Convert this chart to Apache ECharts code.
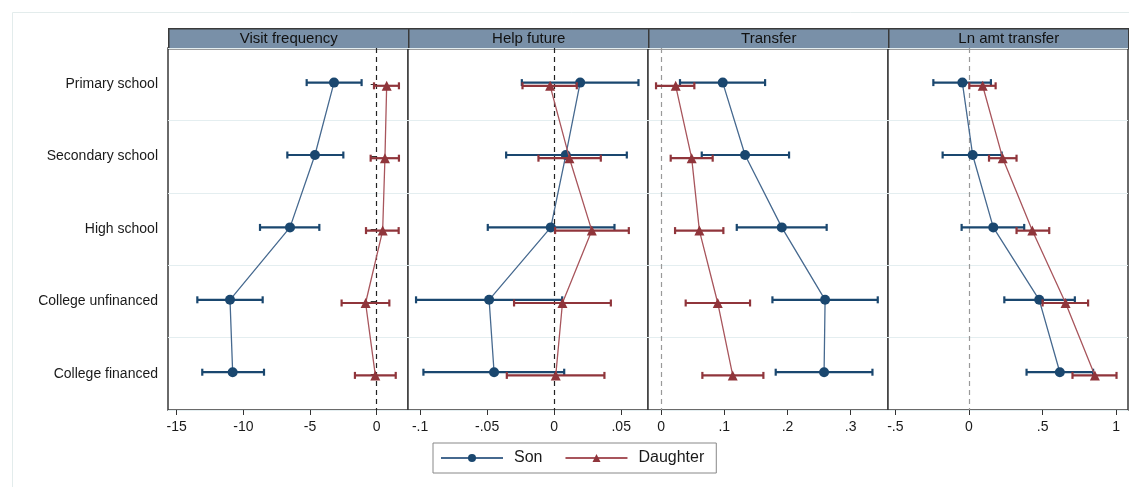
<!DOCTYPE html>
<html>
<head>
<meta charset="utf-8">
<script src="https://cdn.jsdelivr.net/npm/echarts@6/dist/echarts.min.js"></script>
<style>
  html, body { margin: 0; padding: 0; background: #fff; }
  #chart { width: 1129px; height: 487px; }
</style>
</head>
<body>
<div id="chart"></div>
<script>
// categories, top to bottom
const categories = ['Primary school', 'Secondary school', 'High school', 'College unfinanced', 'College financed'];
const panelTitles = ['Visit frequency', 'Help future', 'Transfer', 'Ln amt transfer'];

// son estimates and 95% CI, one row per panel
const sonMean = [
  [-3.2, -4.63, -6.5, -11.0, -10.8],
  [0.0194, 0.0087, -0.0025, -0.0485, -0.0448],
  [0.0976, 0.1329, 0.191, 0.2595, 0.2579],
  [-0.045, 0.025, 0.165, 0.477, 0.617]
];
const sonLow = [
  [-5.25, -6.7, -8.75, -13.45, -13.08],
  [-0.0241, -0.0358, -0.0495, -0.103, -0.0975],
  [0.030, 0.0644, 0.1198, 0.1762, 0.1814],
  [-0.242, -0.179, -0.050, 0.240, 0.391]
];
const sonHigh = [
  [-1.13, -2.5, -4.3, -8.55, -8.45],
  [0.0629, 0.0542, 0.045, 0.006, 0.0075],
  [0.1646, 0.2025, 0.262, 0.3428, 0.3344],
  [0.149, 0.222, 0.375, 0.719, 0.843]
];

// daughter estimates and 95% CI
const daughterMean = [
  [0.75, 0.62, 0.45, -0.83, -0.1],
  [-0.003, 0.0114, 0.0281, 0.0062, 0.0012],
  [0.0232, 0.0485, 0.0607, 0.0897, 0.1134],
  [0.093, 0.229, 0.430, 0.656, 0.855]
];
const daughterLow = [
  [-0.2, -0.45, -0.8, -2.63, -1.63],
  [-0.0236, -0.0117, 0.0007, -0.0299, -0.0353],
  [-0.0079, 0.0153, 0.0222, 0.039, 0.0654],
  [0.002, 0.136, 0.323, 0.500, 0.703]
];
const daughterHigh = [
  [1.67, 1.67, 1.65, 0.95, 1.43],
  [0.0169, 0.0348, 0.0557, 0.0423, 0.0375],
  [0.0527, 0.0817, 0.0986, 0.1408, 0.1619],
  [0.181, 0.323, 0.545, 0.809, 1.002]
];

// x axis ticks per panel
const xTicks = [
  [-15, -10, -5, 0],
  [-0.1, -0.05, 0, 0.05],
  [0, 0.1, 0.2, 0.3],
  [-0.5, 0, 0.5, 1]
];
const xRanges = [[-15.65, 2.35], [-0.109, 0.070], [-0.0206, 0.359], [-0.55, 1.08]];
const zeroLineColor = ['#222', '#222', '#999', '#999'];

const SON = '#1a476f', SON_LINE = '#46698f';
const DAU = '#90353b', DAU_LINE = '#a8555c';
const FONT = 'Liberation Sans, Arial, sans-serif';

const gridLeft = 168, gridTop = 48, gridW = 240, gridH = 362;
const off = 0.022; // small vertical dodge between son and daughter

function fmtTick(v) {
  let s = String(v);
  return s.replace(/^(-?)0\./, '$1.');
}

function ciRender(color) {
  return function (params, api) {
    const a = api.coord([api.value(0), api.value(2)]);
    const b = api.coord([api.value(1), api.value(2)]);
    const h = 3.5;
    const st = { stroke: color, lineWidth: 2.2 };
    return {
      type: 'group',
      children: [
        { type: 'line', shape: { x1: a[0], y1: a[1], x2: b[0], y2: b[1] }, style: st },
        { type: 'line', shape: { x1: a[0], y1: a[1] - h, x2: a[0], y2: a[1] + h }, style: st },
        { type: 'line', shape: { x1: b[0], y1: b[1] - h, x2: b[0], y2: b[1] + h }, style: st }
      ]
    };
  };
}

const grids = [], xAxes = [], yAxes = [], series = [], graphics = [];

// faint outer frame
graphics.push({
  type: 'rect', left: 10, top: 10, silent: true, z: -10,
  shape: { width: 1140, height: 490 },
  style: { fill: null, stroke: '#e3ecec', lineWidth: 1 }
});

panelTitles.forEach((title, p) => {
  const left = gridLeft + gridW * p;
  grids.push({
    left: left, top: gridTop, width: gridW, height: gridH,
    show: true, borderColor: '#3a3a3a', borderWidth: 1.5, backgroundColor: '#fff'
  });
  xAxes.push({
    type: 'value', gridIndex: p,
    min: xRanges[p][0], max: xRanges[p][1],
    axisLine: { show: false },
    splitLine: { show: false },
    axisTick: { show: true, length: 5, customValues: xTicks[p], lineStyle: { color: '#333' } },
    axisLabel: {
      customValues: xTicks[p], formatter: fmtTick,
      color: '#1a1a1a', fontSize: 14, fontFamily: FONT, margin: 10
    }
  });
  yAxes.push({
    type: 'category', gridIndex: p, data: categories, inverse: true,
    boundaryGap: true,
    axisLine: { show: false },
    axisTick: { show: p === 0, alignWithLabel: true, length: 6, lineStyle: { color: '#333' } },
    axisLabel: { show: p === 0, color: '#1a1a1a', fontSize: 14, fontFamily: FONT, margin: 10 },
    splitLine: { show: true, lineStyle: { color: '#e4eef0', width: 1.2 } }
  });
  yAxes.push({
    type: 'value', gridIndex: p, min: 0.5, max: 5.5, inverse: true, show: false
  });

  // header strip
  graphics.push({
    type: 'group', left: left, top: 28, children: [
      { type: 'rect', shape: { x: 0, y: 0, width: gridW, height: 20 },
        style: { fill: '#7990a8', stroke: '#3a3a3a', lineWidth: 1.5 } },
      { type: 'text', x: gridW / 2, y: 10,
        style: { text: title, fill: '#111', font: '15px ' + FONT, align: 'center', verticalAlign: 'middle' } }
    ]
  });

  const yi = 2 * p + 1;
  series.push({
    name: 'Son CI', type: 'custom', xAxisIndex: p, yAxisIndex: yi,
    renderItem: ciRender(SON), encode: { x: [0, 1], y: 2 },
    data: sonLow[p].map((v, k) => [v, sonHigh[p][k], k + 1 - off]), z: 2
  });
  series.push({
    name: 'Son', type: 'line', xAxisIndex: p, yAxisIndex: yi,
    symbol: 'circle', symbolSize: 10,
    itemStyle: { color: SON },
    lineStyle: { color: SON_LINE, width: 1.3 },
    data: sonMean[p].map((v, k) => [v, k + 1 - off]), z: 3,
    markLine: {
      silent: true, symbol: ['none', 'none'], label: { show: false },
      lineStyle: { color: zeroLineColor[p], type: [5, 4], width: 1.2 },
      data: [{ xAxis: 0 }], z: 1
    }
  });
  series.push({
    name: 'Daughter CI', type: 'custom', xAxisIndex: p, yAxisIndex: yi,
    renderItem: ciRender(DAU), encode: { x: [0, 1], y: 2 },
    data: daughterLow[p].map((v, k) => [v, daughterHigh[p][k], k + 1 + off]), z: 4
  });
  series.push({
    name: 'Daughter', type: 'line', xAxisIndex: p, yAxisIndex: yi,
    symbol: 'triangle', symbolSize: 10,
    itemStyle: { color: DAU },
    lineStyle: { color: DAU_LINE, width: 1.3 },
    data: daughterMean[p].map((v, k) => [v, k + 1 + off]), z: 5
  });
});

const chart = echarts.init(document.getElementById('chart'), null, { renderer: 'canvas' });
chart.setOption({
  animation: false,
  backgroundColor: '#fff',
  grid: grids,
  xAxis: xAxes,
  yAxis: yAxes,
  series: series,
  graphic: graphics,
  legend: {
    data: ['Son', 'Daughter'],
    left: 433, top: 443,
    itemWidth: 62, itemHeight: 10, itemGap: 22,
    padding: [7, 12, 7, 7],
    borderColor: '#888', borderWidth: 1,
    textStyle: { color: '#1a1a1a', fontSize: 16, fontFamily: FONT, padding: [0, 0, 0, 6] }
  }
});
</script>
</body>
</html>
